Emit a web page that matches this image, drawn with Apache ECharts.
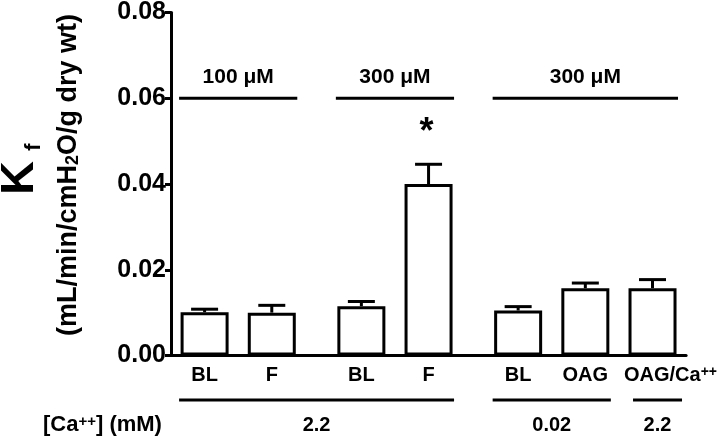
<!DOCTYPE html>
<html><head><meta charset="utf-8">
<script src="https://cdn.jsdelivr.net/npm/echarts@6/dist/echarts.min.js"></script>
<style>html,body{margin:0;padding:0;background:#fff}#c{width:720px;height:439px}</style>
</head><body><div id="c"></div>
<script>
const categories = ['BL', 'F', 'BL', 'F', 'BL', 'OAG', 'OAG/Ca++'];
const kfMean = [0.0101, 0.0100, 0.0115, 0.0400, 0.0105, 0.0157, 0.0157];
const kfSem = [0.0007, 0.0017, 0.0011, 0.0046, 0.0009, 0.0012, 0.0020];
const yTicks = [0, 0.02, 0.04, 0.06, 0.08];
const concLabels = ['100 μM', '300 μM', '300 μM'];
const concGroupSizes = [2, 2, 3];
const caLabels = ['2.2', '0.02', '2.2'];
const caGroupSizes = [4, 2, 1];
const significant = [false, false, false, true, false, false, false];

// slot layout on the category axis (spacer categories between groups)
const slotOf = [];
(function () {
  let s = 1, gi = 0, inG = 0;
  for (let i = 0; i < categories.length; i++) {
    slotOf.push(s); inG++;
    if (inG === concGroupSizes[gi]) { gi++; inG = 0; s += 4; } else { s += 3; }
  }
})();
const nSlots = slotOf[slotOf.length - 1] + 2;
const slotLabel = new Array(nSlots).fill('');
const axisData = [];
for (let k = 0; k < nSlots; k++) axisData.push({ value: 'slot' + k });
categories.forEach((c, i) => { slotLabel[slotOf[i]] = c; });
axisData[slotOf[categories.length - 1]].textStyle = { padding: [0, 0, 0, 36] };

const barData = new Array(nSlots).fill('-');
kfMean.forEach((v, i) => { barData[slotOf[i]] = v; });
const errData = kfMean.map((v, i) => [slotOf[i], v, kfSem[i]]);

const FONT = 'Liberation Sans, Arial, sans-serif';
const chart = echarts.init(document.getElementById('c'), null, { renderer: 'canvas' });
chart.setOption({
  animation: false,
  backgroundColor: '#fff',
  grid: { left: 171, right: 32, top: 11, bottom: 83.5, containLabel: false },
  xAxis: {
    type: 'category', data: axisData,
    axisLine: { show: true, lineStyle: { color: '#000', width: 3 } },
    axisTick: { show: false },
    axisLabel: {
      interval: 0, margin: 10, color: '#000', fontSize: 20, fontWeight: 'bold', fontFamily: FONT,
      formatter: (val, idx) => {
        const t = slotLabel[idx] || '';
        return t.replace('++', '{sup|++}');
      },
      rich: { sup: { fontSize: 14, fontWeight: 'bold', fontFamily: FONT, color: '#000', verticalAlign: 'top', lineHeight: 12 } }
    },
    splitLine: { show: false }
  },
  yAxis: {
    type: 'value', min: yTicks[0], max: yTicks[yTicks.length - 1], interval: yTicks[1] - yTicks[0],
    axisLine: { show: true, lineStyle: { color: '#000', width: 3 } },
    axisTick: { show: true, inside: false, length: 6, lineStyle: { color: '#000', width: 3 } },
    axisLabel: { color: '#000', fontSize: 25, fontWeight: 'bold', fontFamily: FONT, margin: 5,
      formatter: v => v.toFixed(2) },
    splitLine: { show: false }
  },
  series: [
    { type: 'bar', data: barData, barWidth: 48,
      itemStyle: { color: '#fff', borderColor: '#000', borderWidth: 3 } },
    { type: 'custom', data: errData, encode: { x: 0, y: 1 }, z: 3,
      renderItem: (params, api) => {
        const base = api.coord([api.value(0), api.value(1)]);
        const top = api.coord([api.value(0), api.value(1) + api.value(2)]);
        const st = { stroke: '#000', lineWidth: 3 };
        return { type: 'group', children: [
          { type: 'line', shape: { x1: base[0], y1: base[1], x2: base[0], y2: top[1] }, style: st },
          { type: 'line', shape: { x1: base[0] - 13.5, y1: top[1], x2: base[0] + 13.5, y2: top[1] }, style: st }
        ] };
      } }
  ]
});

const px = s => chart.convertToPixel({ xAxisIndex: 0 }, s);
const py = v => chart.convertToPixel({ yAxisIndex: 0 }, v);
const half = 25.5;
const g = [];
const lineStyle = { stroke: '#000', lineWidth: 3 };
const txt = (x, y, text, size, extra) => ({ type: 'text', x, y, style: Object.assign({ text, fill: '#000',
  font: 'bold ' + size + 'px ' + FONT, textAlign: 'center', textVerticalAlign: 'middle' }, extra || {}) });

// concentration groups above bars
(function () {
  let start = 0;
  const yl = py(0.06);
  concGroupSizes.forEach((n, gi) => {
    const x1 = px(slotOf[start]) - half, x2 = px(slotOf[start + n - 1]) + half;
    g.push({ type: 'line', shape: { x1, y1: yl, x2, y2: yl }, style: lineStyle });
    g.push(txt((x1 + x2) / 2, yl - 21, concLabels[gi], 21));
    start += n;
  });
})();
// significance star
significant.forEach((sig, i) => {
  if (!sig) return;
  g.push(txt(px(slotOf[i]) - 2, py(kfMean[i] + kfSem[i]) - 31, '*', 36));
});
// calcium groups below axis
(function () {
  let start = 0;
  const yl = 400;
  caGroupSizes.forEach((n, gi) => {
    let x1 = px(slotOf[start]) - half, x2 = px(slotOf[start + n - 1]) + half;
    if (gi === caGroupSizes.length - 1) { x1 += 6; x2 += 4; }
    g.push({ type: 'line', shape: { x1, y1: yl, x2, y2: yl }, style: lineStyle });
    g.push(txt((x1 + x2) / 2, 425, caLabels[gi], 20));
    start += n;
  });
})();
g.push({ type: 'text', x: 43, y: 425, style: { text: '[Ca{sup|++}] (mM)', fill: '#000',
  font: 'bold 22px ' + FONT, textAlign: 'left', textVerticalAlign: 'middle',
  rich: { sup: { fontSize: 15, fontWeight: 'bold', fontFamily: FONT, verticalAlign: 'top', lineHeight: 12 } } } });
// y axis title
g.push({ type: 'text', x: 20, y: 178, rotation: Math.PI / 2,
  style: { text: 'K', fill: '#000', font: 'bold 47px ' + FONT, textAlign: 'center', textVerticalAlign: 'middle' } });
g.push({ type: 'text', x: 34, y: 147, rotation: Math.PI / 2,
  style: { text: 'f', fill: '#000', font: 'bold 22px ' + FONT, textAlign: 'center', textVerticalAlign: 'middle' } });
g.push({ type: 'text', x: 69, y: 175, rotation: Math.PI / 2,
  style: { text: '(mL/min/cmH{sub|2}O/g dry wt)', fill: '#000', font: 'bold 27px ' + FONT,
    textAlign: 'center', textVerticalAlign: 'middle',
    rich: { sub: { fontSize: 18, fontWeight: 'bold', fontFamily: FONT, verticalAlign: 'bottom', lineHeight: 14 } } } });
chart.setOption({ graphic: g });
</script></body></html>
